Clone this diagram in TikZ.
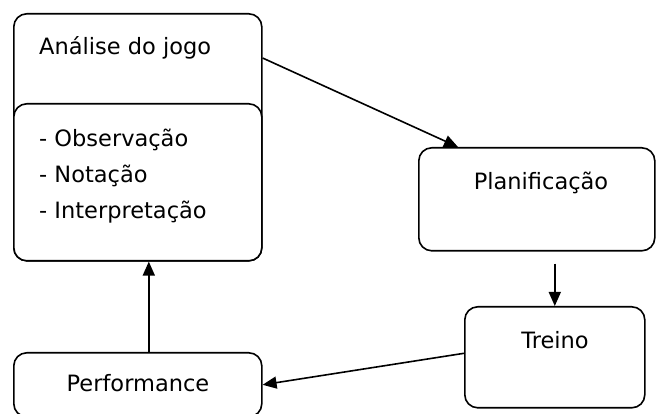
\documentclass[tikz,border=0pt]{standalone}
\usepackage{fontspec}
\setmainfont{DejaVu Sans}
\usetikzlibrary{arrows.meta,positioning}
\begin{document}
\begin{tikzpicture}[x=1pt,y=-1pt,
  box/.style={draw=black,line width=1.6pt,rounded corners=13pt,fill=white,inner sep=0pt,anchor=north west},
  txt/.style={inner sep=0pt,font=\fontsize{22.5}{36}\selectfont},
  arr/.style={line width=1.6pt,-{Triangle[length=14pt,width=12pt]}}]
\useasboundingbox (0,0) rectangle (657,414);
% boxes
\node[box,minimum width=248pt,minimum height=247pt] (an) at (13,13) {};
\node[box,minimum width=248pt,minimum height=157pt] (obs) at (13,103) {};
\node[box,minimum width=236pt,minimum height=103pt] (pl) at (418,147) {};
\node[box,minimum width=180pt,minimum height=101pt] (tr) at (464,306) {};
\node[box,minimum width=248pt,minimum height=64pt] (pf) at (13,352) {};
% texts
\node[txt,anchor=west] (tan) at (39,48) {Análise do jogo};
\node[txt,anchor=west,align=left] (tobs) at (39,176) {- Observação\\- Notação\\- Interpretação};
\node[txt] (tpl) at (541,183) {Planificação};
\node[txt] (ttr) at (555,340) {Treino};
\node[txt] (tpf) at (138,383) {Performance};
% connectors
\draw[arr] ([yshift=-45pt]an.north east) -- ([xshift=40pt]pl.north west);
\draw[arr] ([yshift=-12pt]tr.north |- pl.south) -- (tr.north);
\draw[arr] ([yshift=4pt]tr.west) -- (pf.east);
\draw[arr] ([xshift=11pt]pf.north) -- ([xshift=11pt]pf.north |- obs.south);
\end{tikzpicture}
\end{document}
